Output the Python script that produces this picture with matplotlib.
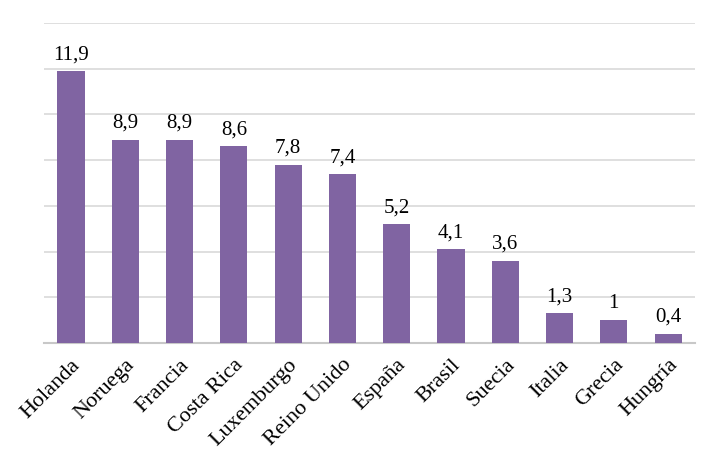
import numpy as np
import matplotlib.pyplot as plt

paises = ['Holanda', 'Noruega', 'Francia', 'Costa Rica', 'Luxemburgo', 'Reino Unido',
          'España', 'Brasil', 'Suecia', 'Italia', 'Grecia', 'Hungría']
valores = [11.9, 8.9, 8.9, 8.6, 7.8, 7.4, 5.2, 4.1, 3.6, 1.3, 1.0, 0.4]
etiquetas = ['11,9', '8,9', '8,9', '8,6', '7,8', '7,4', '5,2', '4,1', '3,6', '1,3', '1', '0,4']

plt.rcParams['font.family'] = ['Liberation Serif', 'DejaVu Serif']

fig = plt.figure(figsize=(7.19, 4.62), dpi=100)
ax = fig.add_axes([0.061, 0.2576, 0.906, 0.6924])

x = np.arange(len(paises))
bars = ax.bar(x, valores, width=0.5, color='#8064A2', zorder=3)

for b, t in zip(bars, etiquetas):
    ax.text(b.get_x() + b.get_width() / 2, b.get_height() + 0.3, t,
            ha='center', va='bottom', fontsize=15)

ax.set_xlim(-0.5, len(paises) - 0.5)
ax.set_ylim(0, 14)
ax.set_yticks(np.arange(0, 15, 2))
ax.set_yticklabels([])
ax.tick_params(axis='y', length=0)
ax.tick_params(axis='x', length=0, pad=9)
ax.grid(axis='y', color='#d9d9d9', linewidth=1.2, zorder=0)

ax.set_xticks(x)
ax.set_xticklabels(paises, rotation=45, ha='right', rotation_mode='anchor', fontsize=16)

for s in ['top', 'right', 'left']:
    ax.spines[s].set_visible(False)
ax.spines['bottom'].set_color('#c8c8c8')
ax.spines['bottom'].set_linewidth(1.5)

fig.savefig('out.png', dpi=100)
